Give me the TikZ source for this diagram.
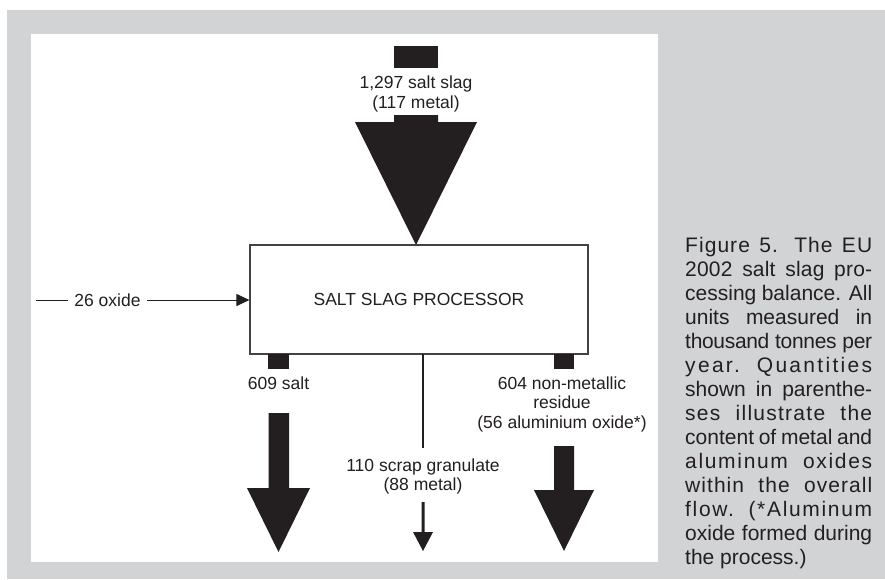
\documentclass[tikz,border=0pt]{standalone}
\usepackage{fontspec}
\setmainfont{Liberation Sans}
\usetikzlibrary{arrows.meta}
\definecolor{ink}{RGB}{35,31,32}
\definecolor{panelgray}{RGB}{209,211,212}
\begin{document}
\begin{tikzpicture}[x=1pt,y=-1pt,
  lbl/.style={font=\fontsize{17.5}{19.5}\selectfont, text=ink, align=center, inner sep=0pt},
  bar/.style={fill=ink, draw=none},
  thin/.style={draw=ink, line width=0.9pt},
  capl/.style={anchor=base west, inner sep=0pt, text=ink, font=\fontsize{21}{24}\selectfont}]
\useasboundingbox (0,0) rectangle (885,579);
\fill[white] (0,0) rectangle (885,579);
\fill[panelgray] (7,10) rectangle (885,579);
\fill[white] (31,34) rectangle (658,562);

% input salt slag
\fill[bar] (394,46) rectangle (438,68);
\node[lbl] (in) at (416,94) {1,297 salt slag\\(117 metal)};
\fill[bar] (394,115) -- (438,115) -- (438,122) -- (477,122) -- (416,245) -- (355,122) -- (394,122) -- cycle;

% processor
\node[draw=ink!85, line width=1.1pt, minimum width=338pt, minimum height=109pt, lbl, inner sep=0pt] (proc) at (419,299.5) {SALT SLAG PROCESSOR};

% oxide input
\coordinate (ox0) at (36,300);
\node[lbl, inner xsep=6pt] (ox) at (107.5,300) {26 oxide};
\draw[thin] (ox0) -- (ox.west);
\draw[thin, -{Triangle[length=13pt,width=12pt]}] (ox.east) -- (proc.west |- ox.east);

% salt output
\fill[bar] (268,354) rectangle (289,369);
\node[lbl] (salt) at (278.5,383) {609 salt};
\fill[bar] (268.5,413) -- (289,413) -- (289,488) -- (310,488) -- (278.5,552) -- (247,488) -- (268.5,488) -- cycle;

% scrap granulate output
\coordinate (g0) at (423,354);
\node[lbl] (gran) at (423,476.5) {110 scrap granulate\\(88 metal)};
\draw[draw=ink, line width=2.7pt] (g0) -- ([yshift=10pt]gran.north);
\fill[bar] (421.5,502) -- (424.5,502) -- (424.5,532) -- (433,532) -- (423,551) -- (413,532) -- (421.5,532) -- cycle;

% residue output
\fill[bar] (554,354) rectangle (574,369);
\node[lbl] (res) at (562,404) {604 non-metallic\\residue\\(56 aluminium oxide*)};
\fill[bar] (554,446) -- (574,446) -- (574,490) -- (594,490) -- (564,551) -- (534,490) -- (554,490) -- cycle;

% caption
\node[capl] (c1) at (685,252) {\addfontfeature{LetterSpace=5}\makebox[187pt][s]{Figure 5. The EU}};
\node[capl] (c2) at (685,276) {\addfontfeature{LetterSpace=1}\makebox[187pt][s]{2002 salt slag pro-}};
\node[capl] (c3) at (685,300) {\makebox[187pt][s]{cessing balance. All}};
\node[capl] (c4) at (685,324) {\makebox[187pt][s]{units measured in}};
\node[capl] (c5) at (685,348) {\addfontfeature{LetterSpace=-1.5}\makebox[187pt][s]{thousand tonnes per}};
\node[capl] (c6) at (685,372) {\addfontfeature{LetterSpace=11}\makebox[187pt][s]{year. Quantities}};
\node[capl] (c7) at (685,396) {\makebox[187pt][s]{shown in parenthe-}};
\node[capl] (c8) at (685,420) {\addfontfeature{LetterSpace=6}\makebox[187pt][s]{ses illustrate the}};
\node[capl] (c9) at (685,444) {\makebox[187pt][s]{content of metal and}};
\node[capl] (c10) at (685,468) {\addfontfeature{LetterSpace=8}\makebox[187pt][s]{aluminum oxides}};
\node[capl] (c11) at (685,492) {\addfontfeature{LetterSpace=5}\makebox[187pt][s]{within the overall}};
\node[capl] (c12) at (685,516) {\addfontfeature{LetterSpace=8}\makebox[187pt][s]{flow. (*Aluminum}};
\node[capl] (c13) at (685,540) {\makebox[187pt][s]{oxide formed during}};
\node[capl] (c14) at (685,564) {the process.)};
\end{tikzpicture}
\end{document}
